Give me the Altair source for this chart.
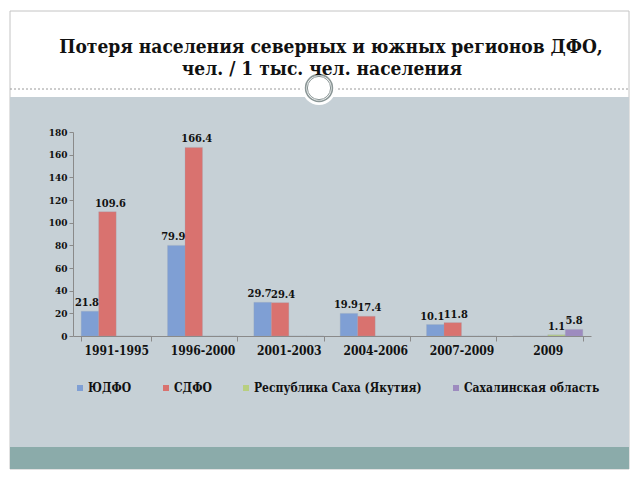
import altair as alt
import pandas as pd

periods = ["1991-1995", "1996-2000", "2001-2003", "2004-2006", "2007-2009", "2009"]
series = ["ЮДФО", "СДФО", "Республика Саха (Якутия)", "Сахалинская область"]
yudfo = [21.8, 79.9, 29.7, 19.9, 10.1, 0.0]
sdfo = [109.6, 166.4, 29.4, 17.4, 11.8, 0.0]
yakutia = [0.0, 0.0, 0.0, 0.0, 0.0, 1.1]
sakhalin = [0.0, 0.0, 0.0, 0.0, 0.0, 5.8]
colors = ["#7f9fd4", "#d9726f", "#b8cf80", "#9d8bbf"]
title_lines = ["Потеря населения северных и южных регионов ДФО,", "чел. / 1 тыс. чел. населения"]
y_ticks = [0, 20, 40, 60, 80, 100, 120, 140, 160, 180]

rows = []
for name, vals in zip(series, [yudfo, sdfo, yakutia, sakhalin]):
    for p, v in zip(periods, vals):
        rows.append({"period": p, "series": name, "value": v})
df = pd.DataFrame(rows)

FONT = "DejaVu Serif Condensed, DejaVu Serif, serif"
W, H = 518, 204
OX, OY = 73, 132  # plot origin on page

one = alt.Data(values=[{}])

def px(x):
    return x - OX

def py(y):
    return y - OY

frame = alt.Chart(one).mark_rect(fill="white", stroke="#c4c4c4", strokeWidth=1).encode(
    x=alt.value(px(10)), x2=alt.value(px(629)), y=alt.value(py(11)), y2=alt.value(py(469)))
panel = alt.Chart(one).mark_rect(fill="#c6d0d6").encode(
    x=alt.value(px(10)), x2=alt.value(px(629)), y=alt.value(py(97)), y2=alt.value(py(447)))
band = alt.Chart(one).mark_rect(fill="#8babaa").encode(
    x=alt.value(px(10)), x2=alt.value(px(629)), y=alt.value(py(447)), y2=alt.value(py(469)))
dash = alt.Chart(one).mark_rule(color="#9a9a9a", strokeDash=[2, 2], strokeWidth=1).encode(
    x=alt.value(px(10)), x2=alt.value(px(629)), y=alt.value(py(89)))
disk = alt.Chart(one).mark_point(shape="circle", filled=True, color="white", opacity=1, size=1150).encode(
    x=alt.value(px(319)), y=alt.value(py(88)))
ring1 = alt.Chart(one).mark_point(shape="circle", filled=False, color="#8a9696", strokeWidth=1.6, opacity=1, size=720).encode(
    x=alt.value(px(319)), y=alt.value(py(88)))
ring2 = alt.Chart(one).mark_point(shape="circle", filled=False, color="#8a9696", strokeWidth=1, opacity=1, size=540).encode(
    x=alt.value(px(319)), y=alt.value(py(88)))
t1 = alt.Chart(one).mark_text(text=title_lines[0], font=FONT, fontSize=19, fontWeight="bold",
                              color="#111111", baseline="middle", align="center").encode(
    x=alt.value(px(331)), y=alt.value(py(47)))
t2 = alt.Chart(one).mark_text(text=title_lines[1], font=FONT, fontSize=19, fontWeight="bold",
                              color="#111111", baseline="middle", align="center").encode(
    x=alt.value(px(322)), y=alt.value(py(69)))

xenc = alt.X("period:N", sort=periods, title=None,
             scale=alt.Scale(paddingInner=0.19, paddingOuter=0.095),
             axis=alt.Axis(labelAngle=0, labelFont=FONT, labelFontSize=12, labelFontWeight="bold",
                           labelColor="#111111", domainColor="#8a8a8a", tickColor="#8a8a8a",
                           tickSize=5, tickBand="extent", labelPadding=4, zindex=1))
yenc = alt.Y("value:Q", title=None, scale=alt.Scale(domain=[0, 180], nice=False),
             axis=alt.Axis(values=y_ticks, grid=False, labelFont=FONT, labelFontSize=10,
                           labelFontWeight="bold", labelColor="#111111", domainColor="#8a8a8a",
                           tickColor="#8a8a8a", tickSize=4, labelPadding=2, labelOverlap=False,
                           zindex=1))
xoff = alt.XOffset("series:N", sort=series, scale=alt.Scale(paddingInner=0, paddingOuter=0))

bars = alt.Chart(df).mark_bar(stroke="#9aa8b8", strokeWidth=0.5, strokeOpacity=0.5).encode(
    x=xenc, y=yenc, xOffset=xoff,
    color=alt.Color("series:N", sort=series,
                    scale=alt.Scale(domain=series, range=colors),
                    legend=alt.Legend(title=None, orient="none", direction="horizontal",
                                      legendX=px(74), legendY=py(382), symbolType="square",
                                      symbolSize=36, symbolStrokeWidth=0, labelFont=FONT,
                                      labelFontSize=12, labelFontWeight="bold", labelColor="#111111",
                                      labelLimit=400, columnPadding=28, labelOffset=2,
                                      symbolOpacity=1)),
)

def label_layer(flt, shift):
    return alt.Chart(df).transform_filter(flt).mark_text(
        font=FONT, fontSize=11, fontWeight="bold", color="#111111", baseline="bottom",
        dy=-3, dx=shift).encode(
        x=xenc, y=yenc, xOffset=xoff,
        text=alt.Text("value:Q", format=".1f"))

lab_blue = label_layer(f"datum.value > 0 && datum.series == '{series[0]}'", -3)
lab_red = label_layer(f"datum.value > 0 && datum.series == '{series[1]}'", 3)
lab_rest = label_layer(f"datum.value > 0 && datum.series != '{series[0]}' && datum.series != '{series[1]}'", 0)

chart = alt.layer(frame, panel, band, dash, disk, ring1, ring2, t1, t2, bars,
                  lab_blue, lab_red, lab_rest).properties(
    width=W, height=H,
    autosize=alt.AutoSizeParams(type="none"),
    padding={"left": OX, "top": OY, "right": 640 - OX - W, "bottom": 480 - OY - H},
    background="white",
).configure_view(stroke=None)

chart.save("out.html", embed_options={"renderer": "svg", "actions": False})
